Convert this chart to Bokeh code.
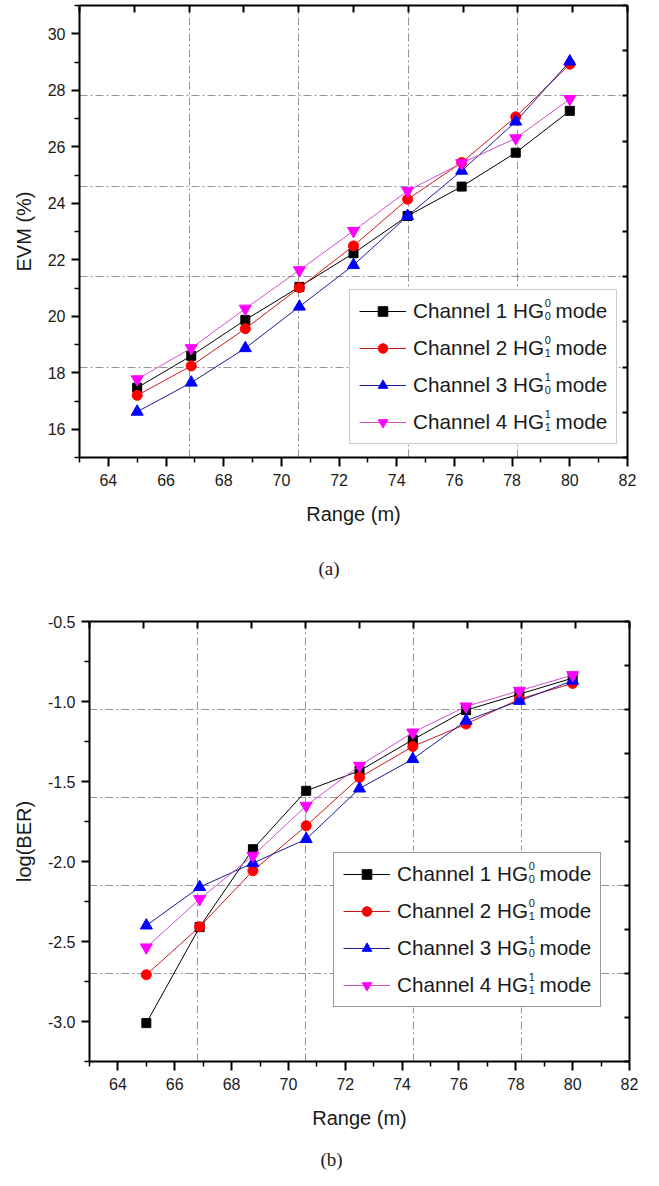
from bokeh.plotting import figure
from bokeh.models import Range1d, LinearAxis, FixedTicker, Legend, LegendItem, Title, BoxAnnotation
from bokeh.core.properties import value
from bokeh.embed import file_html
from bokeh.resources import INLINE

# ---------------- data ----------------
range_m = [65, 66.875, 68.75, 70.625, 72.5, 74.375, 76.25, 78.125, 80]

evm_ch1 = [17.47, 18.60, 19.87, 21.04, 22.23, 23.55, 24.59, 25.79, 27.27]
evm_ch2 = [17.20, 18.24, 19.56, 21.01, 22.49, 24.14, 25.44, 27.06, 28.92]
evm_ch3 = [16.62, 17.65, 18.87, 20.34, 21.81, 23.55, 25.15, 26.89, 29.02]
evm_ch4 = [17.77, 18.87, 20.27, 21.63, 23.02, 24.44, 25.42, 26.30, 27.69]

ber_ch1 = [-3.010, -2.410, -1.923, -1.558, -1.433, -1.239, -1.054, -0.954, -0.854]
ber_ch2 = [-2.708, -2.408, -2.058, -1.777, -1.475, -1.281, -1.141, -0.985, -0.887]
ber_ch3 = [-2.400, -2.160, -2.010, -1.860, -1.544, -1.360, -1.120, -0.996, -0.870]
ber_ch4 = [-2.537, -2.235, -1.964, -1.652, -1.402, -1.194, -1.031, -0.933, -0.835]

legend_names = ["Channel 1 HG  mode", "Channel 2 HG  mode",
                "Channel 3 HG  mode", "Channel 4 HG  mode"]
sup_labels = ["0", "0", "1", "1"]
sub_labels = ["0", "1", "0", "1"]

x_ticks = [64, 66, 68, 70, 72, 74, 76, 78, 80, 82]
x_tick_labels = ["64", "66", "68", "70", "72", "74", "76", "78", "80", "82"]
x_minor = [63, 65, 67, 69, 71, 73, 75, 77, 79, 81]
evm_ticks = [16, 18, 20, 22, 24, 26, 28, 30]
evm_tick_labels = ["16", "18", "20", "22", "24", "26", "28", "30"]
evm_minor = [15, 17, 19, 21, 23, 25, 27, 29, 31]
ber_ticks = [-3.0, -2.5, -2.0, -1.5, -1.0, -0.5]
ber_tick_labels = ["-3.0", "-2.5", "-2.0", "-1.5", "-1.0", "-0.5"]
ber_minor = [-3.25, -2.75, -2.25, -1.75, -1.25, -0.75]

# ---------------- style ----------------
COLORS = ["#000000", "#ff0000", "#0000ff", "#ff00ff"]
LINE_COLORS = ["#000000", "#d01818", "#1a1a9a", "#d050d0"]
MARKERS = ["square", "circle", "triangle", "inverted_triangle"]
MSIZES = [9, 10, 12, 12]
FONT = "Liberation Sans"
W = 650
PAD = 9
GLYPH_W = 47
ROW_H = 24
SPACING = 13
STANDOFF = 7
LEG_FONT = 20.7
STEM_W = 6.336 * LEG_FONT       # width of "Channel 1 HG" in Liberation Sans
LABEL_W = 9.393 * LEG_FONT      # width of the whole legend label
ROW_OFF = PAD + ROW_H / 2 + 3
LEG_W = 2 * PAD + GLYPH_W + STANDOFF + LABEL_W
LEG_H = 2 * PAD + 4 * ROW_H + 3 * SPACING + 4


def style_main_axis(ax, ticks, labels, minor):
    ax.ticker = FixedTicker(ticks=ticks, minor_ticks=minor)
    ax.major_label_overrides = {t: l for t, l in zip(ticks, labels)}
    ax.axis_line_width = 2
    ax.axis_line_color = "black"
    ax.major_tick_line_width = 2
    ax.minor_tick_line_width = 1.5
    ax.major_tick_in = 0
    ax.major_tick_out = 8
    ax.minor_tick_in = 0
    ax.minor_tick_out = 5
    ax.major_label_text_font = FONT
    ax.major_label_text_font_size = "16px"
    ax.major_label_text_color = "#1a1a1a"
    ax.axis_label_text_font = FONT
    ax.axis_label_text_font_size = "20px"
    ax.axis_label_text_font_style = "normal"
    ax.axis_label_text_color = "#1a1a1a"


def frame_axis(ticks, ticklen):
    return LinearAxis(ticker=FixedTicker(ticks=ticks, minor_ticks=[]),
                      major_tick_in=ticklen, major_tick_out=0,
                      minor_tick_in=0, minor_tick_out=0,
                      major_label_text_font_size="0px", major_label_text_color=None,
                      major_label_standoff=0,
                      axis_line_width=2, axis_line_color="black",
                      major_tick_line_width=2)


def make_panel(ys, yr, yticks, ylabels, yminor, ylabel, caption, cap_offset, cap_standoff,
               height, bl, br, bt, bb, leg_loc, leg_border):
    x0, x1 = 63, 82
    y0, y1 = yr
    fw = W - bl - br
    fh = height - bt - bb
    kx = (x1 - x0) / fw
    ky = (y1 - y0) / fh
    p = figure(width=W, height=height, x_range=Range1d(x0, x1), y_range=Range1d(y0, y1),
               output_backend="svg", toolbar_location=None,
               min_border_left=bl, min_border_right=br, min_border_top=bt, min_border_bottom=bb,
               x_axis_label="Range (m)", y_axis_label=ylabel)
    p.outline_line_color = None
    p.background_fill_color = "white"
    p.border_fill_color = "white"
    style_main_axis(p.below[0], x_ticks, x_tick_labels, x_minor)
    style_main_axis(p.left[0], yticks, ylabels, yminor)
    p.below[0].major_tick_out = 9
    p.below[0].major_label_standoff = 7
    p.below[0].axis_label_standoff = 14
    p.left[0].major_label_standoff = 6
    p.left[0].axis_label_standoff = 10

    # Origin-style frame ticks (top and right: 10 divisions)
    top_ticks = [x0 + (x1 - x0) * k / 10 for k in range(11)]
    right_ticks = [y0 + (y1 - y0) * k / 10 for k in range(11)]
    p.add_layout(frame_axis(top_ticks, 7), "above")
    p.add_layout(frame_axis(right_ticks, 5), "right")

    # grid: 5 divisions
    p.xgrid.ticker = FixedTicker(ticks=[x0 + (x1 - x0) * k / 5 for k in range(1, 5)])
    p.ygrid.ticker = FixedTicker(ticks=[y0 + (y1 - y0) * k / 5 for k in range(1, 5)])
    for g in (p.xgrid, p.ygrid):
        g.grid_line_color = "#8a8a8a"
        g.grid_line_width = 1
        g.grid_line_dash = "8 3 2 3"
        g.grid_line_alpha = 0.9

    # opaque legend background (under the glyphs, above the grid)
    lx, ly = leg_loc
    p.add_layout(BoxAnnotation(left=x0 + lx * kx, right=x0 + (lx + LEG_W) * kx,
                               bottom=y0 + ly * ky, top=y0 + (ly + LEG_H) * ky,
                               fill_color="white", fill_alpha=1, line_color=None,
                               level="underlay"))

    items = []
    for i, yv in enumerate(ys):
        lr = p.line(range_m, yv, line_color=LINE_COLORS[i], line_width=1)
        sr = p.scatter(range_m, yv, marker=MARKERS[i], size=MSIZES[i],
                       fill_color=COLORS[i], line_color=COLORS[i])
        items.append(LegendItem(label=legend_names[i], renderers=[lr, sr]))

    leg = Legend(items=items, location=leg_loc, padding=PAD, spacing=SPACING,
                 glyph_width=GLYPH_W, glyph_height=ROW_H, label_height=ROW_H,
                 label_standoff=STANDOFF, margin=0,
                 label_text_font=FONT, label_text_font_size=f"{LEG_FONT}px",
                 label_text_color="#1a1a1a",
                 border_line_color=leg_border, border_line_width=1,
                 background_fill_alpha=0)
    p.add_layout(leg, "center")

    # super/subscripts of HG in the legend labels (pixel offsets -> data coords)
    px = lx + PAD + GLYPH_W + STANDOFF + STEM_W + 1
    sup_y, sub_y = [], []
    for i in range(4):
        cy = ly + ROW_OFF + (3 - i) * (ROW_H + SPACING)
        sup_y.append(y0 + (cy + 7) * ky)
        sub_y.append(y0 + (cy - 6) * ky)
    p.text(x=[x0 + px * kx] * 8, y=sup_y + sub_y, text=sup_labels + sub_labels,
           text_font=value(FONT), text_font_size=value("11px"),
           text_baseline="middle", text_align="left", text_color="#1a1a1a")

    # panel caption
    p.add_layout(Title(text=caption, align="left", offset=cap_offset, standoff=cap_standoff,
                       text_font="Liberation Serif", text_font_size="19px",
                       text_font_style="normal", text_color="#1a1a1a"), "below")
    return p


pa = make_panel([evm_ch1, evm_ch2, evm_ch3, evm_ch4], (15, 31), evm_ticks, evm_tick_labels,
                evm_minor, "EVM (%)", "(a)", 239, 56, 606, 79, 23, 5, 149, (270, 13), "#999999")
pb = make_panel([ber_ch1, ber_ch2, ber_ch3, ber_ch4], (-3.25, -0.5), ber_ticks, ber_tick_labels,
                ber_minor, "log(BER)", "(b)", 231, 30, 579, 89, 21, 15, 124, (244, 54), "#333333")

open("out.html", "w").write(file_html([pa, pb], INLINE))
